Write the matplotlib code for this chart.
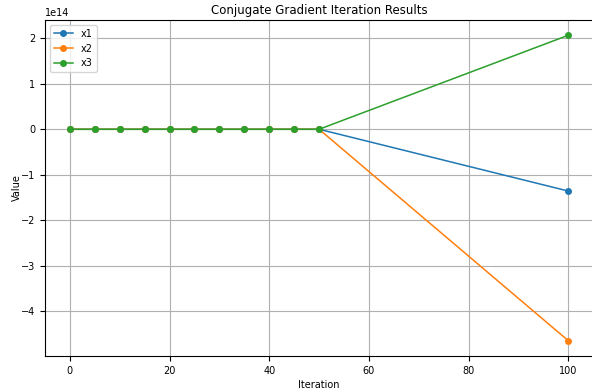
import matplotlib
matplotlib.use('Agg')
import matplotlib.pyplot as plt

# Iteration numbers and values
iterations = [0, 5, 10, 15, 20, 25, 30, 35, 40, 45, 50, 100]
x1 = [0, 0, 0, 0, 0, 0, 0, 0, 0, 0, 0, -1.36e14]
x2 = [0, 0, 0, 0, 0, 0, 0, 0, 0, 0, 0, -4.655e14]
x3 = [0, 0, 0, 0, 0, 0, 0, 0, 0, 0, 0, 2.07e14]

plt.rcParams['font.size'] = 7
fig = plt.figure(figsize=(5.92, 3.92), dpi=100)
ax = fig.add_axes([0.076, 0.092, 0.926, 0.857])

ax.plot(iterations, x1, marker='o', markersize=4, linewidth=1.1, label='x1')
ax.plot(iterations, x2, marker='o', markersize=4, linewidth=1.1, label='x2')
ax.plot(iterations, x3, marker='o', markersize=4, linewidth=1.1, label='x3')

ax.set_xlabel('Iteration', labelpad=3)
ax.set_ylabel('Value', labelpad=-1)
ax.set_title('Conjugate Gradient Iteration Results', fontsize=8.5, pad=4)
ax.grid(True)
ax.legend(loc='upper left')

fig.savefig('out.png', dpi=100)
